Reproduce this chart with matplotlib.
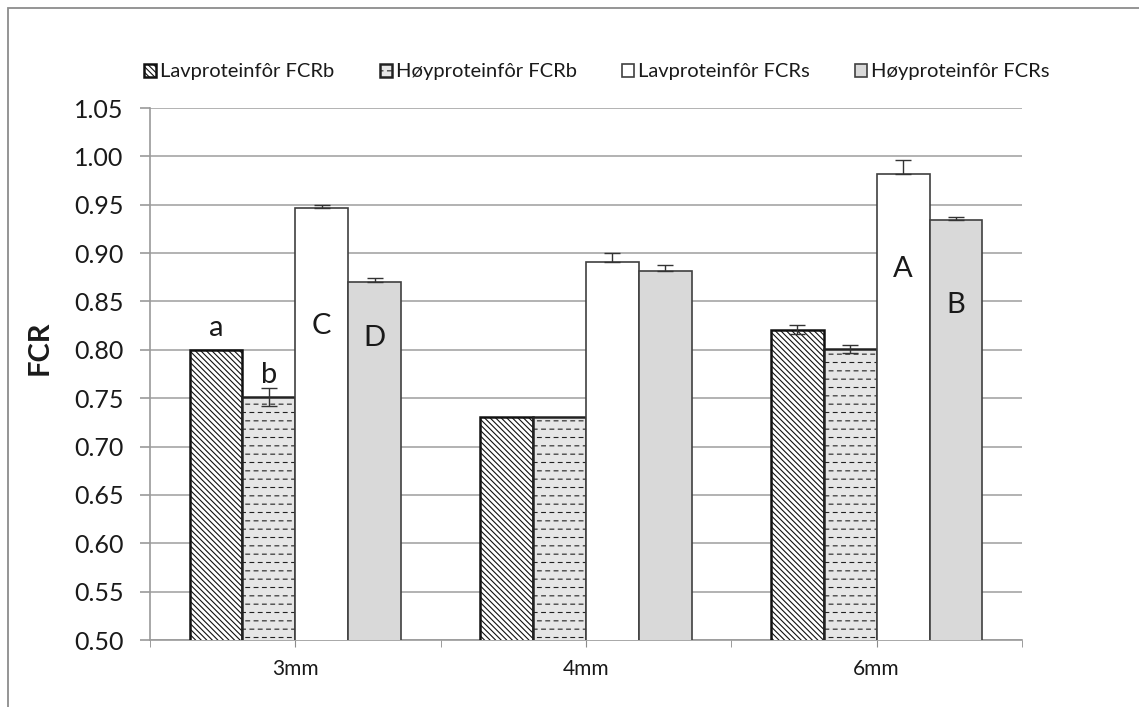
import numpy as np
import matplotlib
matplotlib.use("Agg")
import matplotlib.pyplot as plt
import matplotlib.hatch as mhatch
from matplotlib.path import Path
from matplotlib.patches import Rectangle

# ---------------- data ----------------
categories = ["3mm", "4mm", "6mm"]
series_names = ["Lavproteinfôr FCRb", "Høyproteinfôr FCRb",
                "Lavproteinfôr FCRs", "Høyproteinfôr FCRs"]
lav_fcrb = [0.800, 0.731, 0.821]
hoy_fcrb = [0.751, 0.731, 0.801]
lav_fcrs = [0.947, 0.891, 0.982]
hoy_fcrs = [0.870, 0.881, 0.934]
err_lav_fcrb = [0.0, 0.0, 0.0047]
err_hoy_fcrb = [0.0095, 0.0, 0.004]
err_lav_fcrs = [0.003, 0.0095, 0.0145]
err_hoy_fcrs = [0.004, 0.007, 0.003]
letters_lav_fcrb = ["a", "", ""]
letters_hoy_fcrb = ["b", "", ""]
letters_lav_fcrs = ["C", "", "A"]
letters_hoy_fcrs = ["D", "", "B"]
letter_y_lav_fcrb = [0.823, 0, 0]
letter_y_hoy_fcrb = [0.774, 0, 0]
letter_y_lav_fcrs = [0.825, 0, 0.884]
letter_y_hoy_fcrs = [0.812, 0, 0.846]
yticks = [0.50, 0.55, 0.60, 0.65, 0.70, 0.75, 0.80, 0.85, 0.90, 0.95, 1.00, 1.05]


# ---------------- dashed horizontal hatch ----------------
class DashedHorizontalHatch(mhatch.HatchPatternBase):
    def __init__(self, hatch, density):
        self.num_lines = int((hatch.count('-') + hatch.count('+')) * density)
        self.ndash = self.num_lines
        self.num_vertices = self.num_lines * self.ndash * 2

    def set_vertices_and_codes(self, vertices, codes):
        n = self.num_lines
        if n == 0:
            return
        ys = (np.arange(n) + 0.5) / n
        dl = 0.45 / self.ndash
        k = 0
        for i, y in enumerate(ys):
            off = (0.5 / self.ndash) if i % 2 else 0.0
            for j in range(self.ndash):
                x0 = j / self.ndash + off
                vertices[k, 0] = x0
                vertices[k, 1] = y
                vertices[k + 1, 0] = x0 + dl
                vertices[k + 1, 1] = y
                codes[k] = Path.MOVETO
                codes[k + 1] = Path.LINETO
                k += 2


for i, t in enumerate(mhatch._hatch_types):
    if t is mhatch.HorizontalHatch:
        mhatch._hatch_types[i] = DashedHorizontalHatch

plt.rcParams['font.family'] = ['Lato', 'DejaVu Sans']
plt.rcParams['hatch.linewidth'] = 0.8

fig = plt.figure(figsize=(11.39, 7.07), dpi=100)
ax = fig.add_axes([150 / 1139, 1 - 640 / 707, (1022 - 150) / 1139, (640 - 108) / 707])

x = np.arange(len(categories))
w = 0.182
series = [lav_fcrb, hoy_fcrb, lav_fcrs, hoy_fcrs]
errs = [err_lav_fcrb, err_hoy_fcrb, err_lav_fcrs, err_hoy_fcrs]
letters = [letters_lav_fcrb, letters_hoy_fcrb, letters_lav_fcrs, letters_hoy_fcrs]
letter_ys = [letter_y_lav_fcrb, letter_y_hoy_fcrb, letter_y_lav_fcrs, letter_y_hoy_fcrs]
faces = ["white", "#e6e6e6", "white", "#d9d9d9"]
edges = ["#111111", "#222222", "#404040", "#404040"]
hatches = ["\\\\\\\\\\\\", "--", None, None]
lws = [1.8, 1.8, 1.2, 1.2]
both_sided = [True, True, False, False]

for k in range(4):
    pos = x + (k - 1.5) * w
    ax.bar(pos, series[k], width=w, bottom=0, color=faces[k], edgecolor=edges[k],
           hatch=hatches[k], linewidth=lws[k], label=series_names[k], zorder=3)
    e = np.array(errs[k])
    lower = e if both_sided[k] else np.zeros_like(e)
    mask = e > 0
    ax.errorbar(pos[mask], np.array(series[k])[mask],
                yerr=[lower[mask], e[mask]], fmt='none', ecolor="#333333",
                elinewidth=1.0, capsize=6, capthick=1.0, zorder=4)
    for i in range(len(categories)):
        if letters[k][i]:
            ax.text(pos[i], letter_ys[k][i], letters[k][i], ha='center', va='center',
                    fontsize=21, color="#1a1a1a", zorder=5)

ax.set_ylim(0.5, 1.05)
ax.set_xlim(-0.5, 2.5)
ax.set_yticks(yticks)
ax.set_yticklabels([f"{v:.2f}" for v in yticks], fontsize=18, color="#1a1a1a")
ax.set_xticks(x)
ax.set_xticklabels(categories, fontsize=15, color="#1a1a1a")
ax.set_xticks([-0.5, 0.5, 1.5, 2.5], minor=True)
ax.tick_params(axis='x', which='both', length=5, color="#8c8c8c", pad=9)
ax.tick_params(axis='y', length=7, color="#9a9a9a", width=1.2, pad=12)
ax.grid(axis='y', color="#a6a6a6", linewidth=1.2, zorder=0)
ax.set_axisbelow(True)
for s in ["top", "right"]:
    ax.spines[s].set_visible(False)
ax.spines["left"].set_color("#9a9a9a")
ax.spines["bottom"].set_color("#9a9a9a")
ax.spines["left"].set_linewidth(1.2)
ax.spines["bottom"].set_linewidth(1.2)

fig.text(40 / 1139, 1 - 348 / 707, "FCR", rotation=90, fontsize=21, fontweight='bold',
         ha='center', va='center', color="#1a1a1a")

leg = fig.legend(loc='center', bbox_to_anchor=(597 / 1139, 1 - 72 / 707), ncol=4,
                 frameon=False, fontsize=14.5, handlelength=0.6, handleheight=0.6,
                 handletextpad=0.2, columnspacing=2.25, labelcolor="#1a1a1a")

fig.add_artist(Rectangle((8 / 1139, -0.1), 1.2, 1.1 - 7.5 / 707, transform=fig.transFigure,
                         fill=False, edgecolor="#8c8c8c", linewidth=1.3, clip_on=False))

fig.savefig("out.png", dpi=100)
